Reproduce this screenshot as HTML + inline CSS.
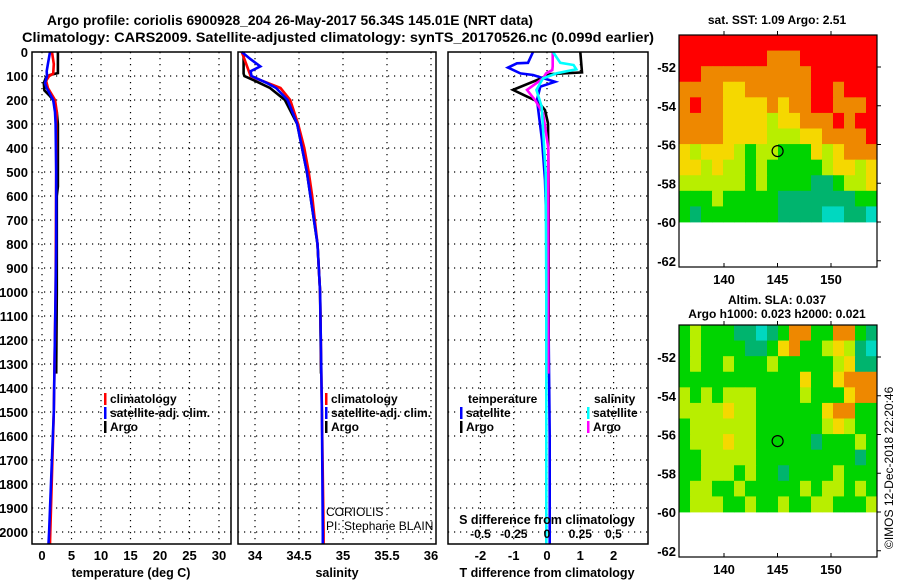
<!DOCTYPE html>
<html><head><meta charset="utf-8"><style>
html,body{margin:0;padding:0;background:#fff}
svg{display:block}
text{font-family:"Liberation Sans",Arial,sans-serif;font-weight:bold;fill:#000}
</style></head><body>
<svg id="fig" width="900" height="580" viewBox="0 0 900 580" xmlns="http://www.w3.org/2000/svg">
<text x="290" y="25" text-anchor="middle" font-size="14" textLength="486" lengthAdjust="spacingAndGlyphs">Argo profile: coriolis 6900928_204 26-May-2017 56.34S 145.01E (NRT data)</text>
<text x="338" y="42" text-anchor="middle" font-size="14" textLength="632" lengthAdjust="spacingAndGlyphs">Climatology: CARS2009. Satellite-adjusted climatology: synTS_20170526.nc (0.099d earlier)</text>
<text x="777" y="24" text-anchor="middle" font-size="12">sat. SST: 1.09 Argo: 2.51</text>
<text x="777" y="304" text-anchor="middle" font-size="12">Altim. SLA: 0.037</text>
<text x="777" y="318" text-anchor="middle" font-size="12">Argo h1000: 0.023 h2000: 0.021</text>
<text x="0" y="0" transform="translate(893,549) rotate(-90)" font-size="12" font-weight="normal" style="font-weight:normal">©IMOS 12-Dec-2018 22:20:46</text>
<g id="plots"></g>
</svg>
<script>
// ---------- DATA ----------
const depthTicks = [0,100,200,300,400,500,600,700,800,900,1000,1100,1200,1300,1400,1500,1600,1700,1800,1900,2000];
const tempTicks = [0,5,10,15,20,25,30];
const salTicks = [34,34.5,35,35.5,36];
const salTickLabels = ["34","34.5","35","35.5","36"];
const tdiffTicks = [-2,-1,0,1,2];
const sdiffTicks = [-0.5,-0.25,0,0.25,0.5];
const sdiffTickLabels = ["-0.5","-0.25","0","0.25","0.5"];

const tClimDepth = [0,50,90,100,120,150,200,250,300,500,1000,1500,2000,2050];
const tClim      = [1.7,2.0,1.9,1.2,0.7,1.0,2.2,2.5,2.4,2.4,2.3,2.0,1.4,1.35];
const tSatDepth  = [0,50,80,100,130,150,200,250,300,500,800,1000,1500,2000,2050];
const tSat       = [1.35,1.0,0.8,0.85,0.5,0.8,1.9,2.2,2.3,2.4,2.4,2.3,2.0,1.2,1.1];
const tArgoDepth = [0,88,95,105,130,160,180,200,250,300,560,600,1000,1340];
const tArgo      = [2.7,2.7,1.4,0.7,0.3,0.4,1.2,1.9,2.5,2.7,2.7,2.5,2.5,2.4];

const sClimDepth = [0,100,117,150,200,300,400,500,600,700,800,1000,1500,2000,2050];
const sClim      = [33.85,33.95,34.06,34.29,34.40,34.49,34.56,34.61,34.65,34.68,34.71,34.74,34.76,34.78,34.78];
const sSatDepth  = [0,30,60,80,100,130,150,200,300,500,800,1000,1500,2000,2050];
const sSat       = [33.85,33.95,34.06,33.95,33.96,34.14,34.24,34.37,34.48,34.59,34.71,34.74,34.76,34.77,34.77];
const sArgoDepth = [0,90,100,120,150,200,300,500,800,1000,1340];
const sArgo      = [33.87,33.87,33.88,34.0,34.17,34.34,34.48,34.59,34.71,34.74,34.75];

const dTSatDepth  = [0,45,47,65,89,96,124,144,200,367,533,800,1200,1600,2050];
const dTSat       = [-0.42,-0.57,-0.9,-1.17,-0.8,-0.42,0.24,-0.2,-0.3,-0.15,-0.06,0.0,0.05,0.08,0.08];
const dTArgoDepth = [0,85,92,117,158,186,207,242,297,600,1000,1340];
const dTArgo      = [1.0,1.05,0.1,-0.3,-1.02,-0.6,-0.27,-0.06,0.03,0.05,0.05,0.05];
const dSArgoDepth = [0,60,75,89,110,158,200,255,400,1000,1340];
const dSArgo      = [0.043,0.043,0.04,-0.007,-0.03,-0.15,-0.09,-0.03,0.01,0.01,0.01];
const dSSatDepth  = [0,45,54,72,89,110,158,228,505,1000,1500,2050];
const dSSat       = [0.045,0.1,0.2,0.22,0.07,-0.03,-0.08,-0.04,-0.01,-0.005,-0.005,-0.005];

const lonTicks = [140,145,150];
const latTicks = [-52,-54,-56,-58,-60,-62];
const argoLon = 145.01, argoLat = -56.34;
const sstGrid = [
"RRRRRRRRRRRRRRRRRR",
"RRRRRRRROOORRRRRRR",
"RROOOOOOOOOORRRRRR",
"OOOOYYOOOOOORRORRR",
"OROOYYYYOYOORROOOR",
"OOOOYYYYLYYOOORORR",
"OOOOYYYYLLLYYOOOOR",
"YLYYYLGLLGGGYLYOOO",
"YYLYLLGLGGGGGLYYLY",
"LLLLLLGLGGGGTTGLLY",
"GGGLGGGGGTTTTTTTGG",
"GTGGGGGGGTTTTCCTTC"];
const slaGrid = [
"GLGGGTTCTGOOGGOOGT",
"GLGGGGTTGYOGGLYLTC",
"GLGGLGGGLGGGGGLYTT",
"GGGGGGGGGGGYGGYOOO",
"LGLGLLLGGGGLGGGYOO",
"LLLLYLLGGGGGGYOOGG",
"GLLLLLLGGGGGGLYLGG",
"GLLLYLLGGGGGTGGGLG",
"GGLLLLLGGGGGGGGGTG",
"GGLLLGLGGTGGGGLGGG",
"GLLGGLGGGGGLGLLGLG",
"GLLLGGLGGLGGLLGGGL"];
const colorKey = {R:"#ff0000",O:"#ee8800",Y:"#f5d800",L:"#b8ee00",G:"#00d400",T:"#00b46e",C:"#00d8c0"};

// ---------- DRAW ----------
const NS="http://www.w3.org/2000/svg";
const root=document.getElementById('plots');
function mk(tag,attrs,parent){const e=document.createElementNS(NS,tag);for(const k in attrs)e.setAttribute(k,attrs[k]);(parent||root).appendChild(e);return e;}
const Y0=52, PB=544, dy=d=>Y0+d*0.24;
const xT=v=>42+v*5.9, xS=v=>255+(v-34)*88, xDT=v=>547+v*33.3, xDS=v=>547+v*133;
const panels=[{x0:32,x1:231,name:'temperature-panel'},{x0:238,x1:436,name:'salinity-panel'},{x0:448,x1:648,name:'difference-panel'}];

function grid(p,xs){
  const g=mk('g',{});
  
  
  xs.forEach(x=>mk('line',{x1:x,x2:x,y1:Y0,y2:PB,stroke:'#000','stroke-width':1.2,'stroke-dasharray':'1.2,4.8'},g));
  depthTicks.forEach(d=>{if(d>0)mk('line',{x1:p.x0,x2:p.x1,y1:dy(d),y2:dy(d),stroke:'#000','stroke-width':1.2,'stroke-dasharray':'1.2,4.8'},g);});
}
function frame(p){
  const r=mk('rect',{x:p.x0,y:Y0,width:p.x1-p.x0,height:PB-Y0,fill:'none',stroke:'#000','stroke-width':1.5});
  
  
}
function line(depths,vals,fx,color,name){
  const pts=depths.map((d,i)=>fx(vals[i]).toFixed(1)+','+dy(d).toFixed(1)).join(' ');
  const l=mk('polyline',{points:pts,fill:'none',stroke:color,'stroke-width':2.6,'stroke-linejoin':'miter'});
  
  
}
function txt(x,y,s,size,anchor,name,extra){
  const t=mk('text',Object.assign({x:x,y:y,'font-size':size,'text-anchor':anchor||'start'},extra||{}));
  t.textContent=s;
  
  
  return t;
}
function legend(x,y,color,label,name){
  const b=mk('rect',{x:x,y:y-10,width:2.5,height:12,fill:color});
  
  
  txt(x+6,y,label,12,'start',name);
}

// panel 1
grid(panels[0],tempTicks.map(xT));
line(tArgoDepth,tArgo,xT,'#000','temp-argo-line');
line(tClimDepth,tClim,xT,'#ff0000','temp-climatology-line');
line(tSatDepth,tSat,xT,'#0000ff','temp-satellite-line');
frame(panels[0]);
depthTicks.forEach(d=>txt(28,dy(d)+5,String(d),13,'end','depth-tick-label'));
tempTicks.forEach(v=>txt(xT(v),560,String(v),13,'middle','temp-tick-label'));
txt(131,577,'temperature (deg C)',12.5,'middle','temp-axis-title');
legend(104,403,'#ff0000','climatology','temp-legend-climatology');
legend(104,417,'#0000ff','satellite-adj. clim.','temp-legend-satellite');
legend(104,431,'#000','Argo','temp-legend-argo');

// panel 2
grid(panels[1],salTicks.map(xS));
line(sArgoDepth,sArgo,xS,'#000','sal-argo-line');
line(sClimDepth,sClim,xS,'#ff0000','sal-climatology-line');
line(sSatDepth,sSat,xS,'#0000ff','sal-satellite-line');
frame(panels[1]);
salTicks.forEach((v,i)=>txt(xS(v),560,salTickLabels[i],13,'middle','sal-tick-label'));
txt(337,577,'salinity',12.5,'middle','sal-axis-title');
legend(325,403,'#ff0000','climatology','sal-legend-climatology');
legend(325,417,'#0000ff','satellite-adj. clim.','sal-legend-satellite');
legend(325,431,'#000','Argo','sal-legend-argo');
txt(326,516,'CORIOLIS',12,'start','coriolis-label',{style:'font-weight:normal'});
txt(326,530,'PI: Stephane BLAIN',12,'start','pi-label',{style:'font-weight:normal'});

// panel 3
grid(panels[2],tdiffTicks.map(xDT));
line(dTArgoDepth,dTArgo,xDT,'#000','tdiff-argo-line');
line(dTSatDepth,dTSat,xDT,'#0000ff','tdiff-satellite-line');
line(dSArgoDepth,dSArgo,xDS,'#ff00ff','sdiff-argo-line');
line(dSSatDepth,dSSat,xDS,'#00ffff','sdiff-satellite-line');
frame(panels[2]);
tdiffTicks.forEach(v=>txt(xDT(v),560,String(v),13,'middle','tdiff-tick-label'));
sdiffTicks.forEach((v,i)=>txt(xDS(v),538,sdiffTickLabels[i],12,'middle','sdiff-tick-label'));
txt(547,524,'S difference from climatology',12.5,'middle','sdiff-axis-title');
txt(547,577,'T difference from climatology',12.5,'middle','tdiff-axis-title');
txt(468,403,'temperature',12,'start','diff-legend-temperature-header');
legend(460,417,'#0000ff','satellite','diff-legend-temp-satellite');
legend(460,431,'#000','Argo','diff-legend-temp-argo');
txt(594,403,'salinity',12,'start','diff-legend-salinity-header');
legend(587,417,'#00ffff','satellite','diff-legend-sal-satellite');
legend(587,431,'#ff00ff','Argo','diff-legend-sal-argo');

// maps
const MX0=679,MX1=877;
const mx=lon=>724+(lon-140)*10.7;
function map(oy,gridData,name){
  const my=lat=>oy+67+(-52-lat)*19.375;
  const top=oy+35,bot=oy+267,dataBot=my(-60);
  const g=mk('g',{});
  
  
  const rows=gridData.length, cols=gridData[0].length;
  const cw=(MX1-MX0)/cols, ch=(dataBot-top)/rows;
  gridData.forEach((row,r)=>{
    for(let c=0;c<cols;c++){
      const cell=mk('rect',{x:(MX0+c*cw).toFixed(2),y:(top+r*ch).toFixed(2),width:(cw+0.4).toFixed(2),height:(ch+0.4).toFixed(2),fill:colorKey[row[c]]},g);
      
      
    }
  });
  const fr=mk('rect',{x:MX0,y:top,width:MX1-MX0,height:bot-top,fill:'none',stroke:'#000','stroke-width':1.2},g);
  
  
  lonTicks.forEach(l=>{
    mk('line',{x1:mx(l),x2:mx(l),y1:top,y2:top-4,stroke:'#000'},g);
    mk('line',{x1:mx(l),x2:mx(l),y1:bot,y2:bot-4,stroke:'#000'},g);
    txt(mx(l),bot+17,String(l),13,'middle',name+'-lon-label');
  });
  latTicks.forEach(l=>{
    mk('line',{x1:MX1,x2:MX1+4,y1:my(l),y2:my(l),stroke:'#000'},g);
    txt(676,my(l)+5,String(l),13,'end',name+'-lat-label');
  });
  const c=mk('circle',{cx:mx(argoLon),cy:my(argoLat),r:5.5,fill:'none',stroke:'#000','stroke-width':1.2},g);
  
  
}
map(0,sstGrid,'sst-map');
map(290,slaGrid,'sla-map');
</script>
</body></html>
